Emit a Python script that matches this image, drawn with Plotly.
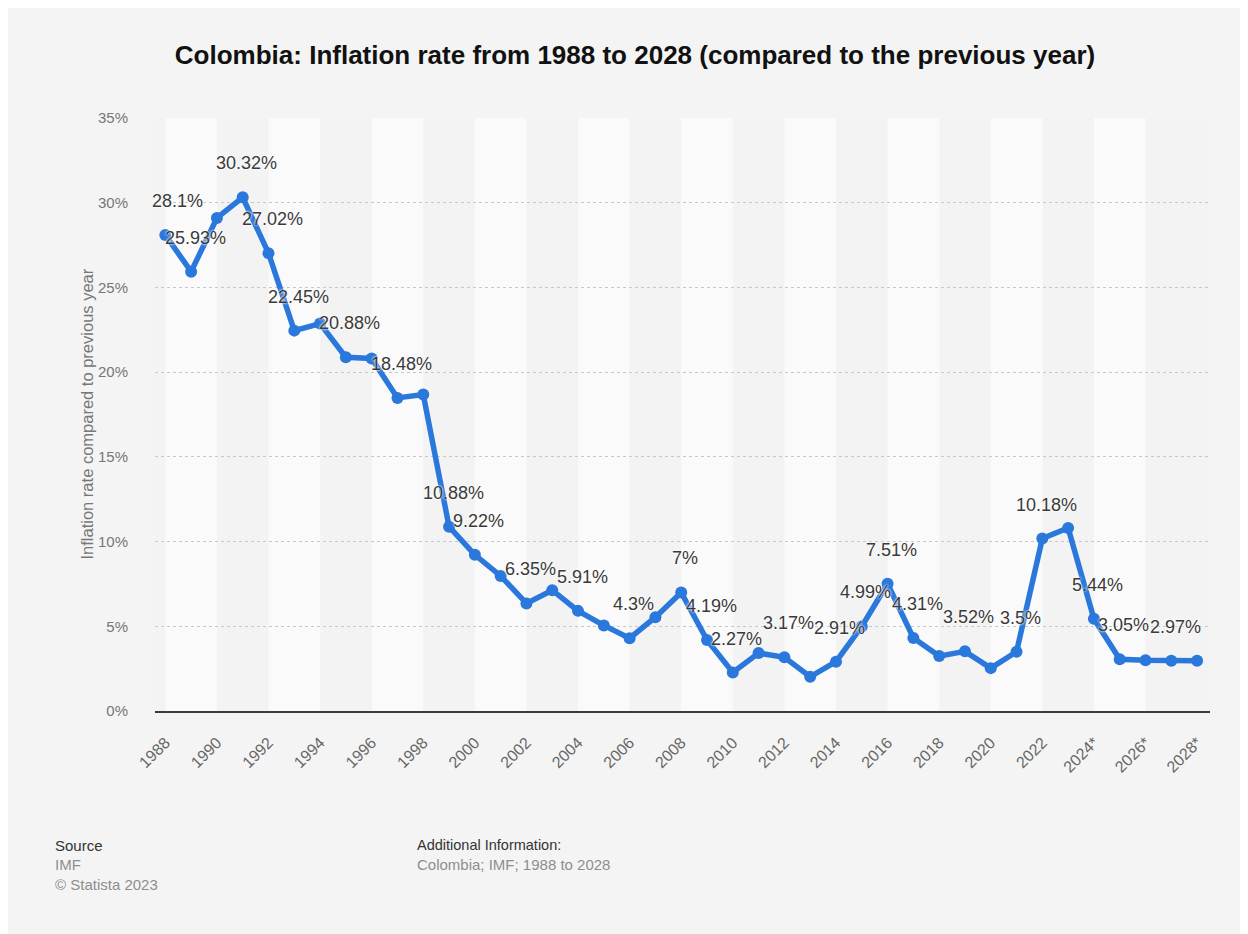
import plotly.graph_objects as go

# ---------------- data ----------------
years = list(range(1988, 2029))
inflation = [28.10, 25.93, 29.10, 30.32, 27.02, 22.45, 22.87, 20.88, 20.81, 18.48,
             18.68, 10.88, 9.22, 7.97, 6.35, 7.13, 5.91, 5.05, 4.30, 5.54,
             7.00, 4.19, 2.27, 3.42, 3.17, 2.02, 2.91, 4.99, 7.51, 4.31,
             3.24, 3.52, 2.53, 3.50, 10.18, 10.80, 5.44, 3.05, 3.00, 2.97,
             2.97]
labeled_years = [1988, 1989, 1991, 1992, 1993, 1995, 1997, 1999, 2000, 2002,
                 2004, 2006, 2008, 2009, 2010, 2012, 2014, 2015, 2016, 2017,
                 2019, 2021, 2022, 2024, 2025, 2027]
tick_years = list(range(1988, 2029, 2))
tick_labels = [str(y) + ("*" if y >= 2024 else "") for y in tick_years]
y_ticks = [0, 5, 10, 15, 20, 25, 30, 35]
y_tick_labels = [f"{v}%" for v in y_ticks]

title = "Colombia: Inflation rate from 1988 to 2028 (compared to the previous year)"
y_title = "Inflation rate compared to previous year"

def fmt(v):
    s = f"{v:.2f}".rstrip("0").rstrip(".")
    return s + "%"

# ---------------- layout geometry ----------------
OFF = 8  # page body margin
W, H = 1248 - OFF, 934 - OFF
ML, MR, MT, MB = 155 - OFF, 38, 118 - OFF, 223
PW, PH = W - ML - MR, H - MT - MB

def px_x(px):  # screen px -> paper
    return (px - OFF - ML) / PW

def px_y(py):
    return (H - MB - (py - OFF)) / PH

BLUE = "#2a78dc"
FONT = "Liberation Sans, Arial, sans-serif"

fig = go.Figure()
fig.add_trace(go.Scatter(
    x=years, y=inflation, mode="lines+markers",
    line=dict(color=BLUE, width=5.5),
    marker=dict(color=BLUE, size=12),
    hoverinfo="x+y", showlegend=False,
))

shapes = []
for k, y0 in enumerate(range(1988, 2028, 2)):
    if k % 2 == 0:
        shapes.append(dict(type="rect", xref="x", yref="paper", x0=y0, x1=y0 + 2,
                           y0=0, y1=1, fillcolor="#fafafa", line_width=0, layer="below"))

annotations = []
val_by_year = dict(zip(years, inflation))
for yr in labeled_years:
    v = val_by_year[yr]
    annotations.append(dict(
        x=yr, y=v, xref="x", yref="y", text=fmt(v), showarrow=False,
        xshift=12 if yr == years[0] else 4, yshift=34,
        font=dict(family=FONT, size=18, color="#3a3a3a",
                  shadow="0px 0px 3px #ffffff, 0px 0px 2px #ffffff"),
    ))

annotations.append(dict(x=px_x(75), y=0.5, xref="paper", yref="paper", text=y_title,
                        textangle=-90, showarrow=False,
                        font=dict(family=FONT, size=16.5, color="#777777")))
annotations += [
    dict(x=px_x(53), y=px_y(845), xref="paper", yref="paper", text="Source",
         xanchor="left", yanchor="middle", showarrow=False,
         font=dict(family=FONT, size=15, color="#333333")),
    dict(x=px_x(53), y=px_y(865), xref="paper", yref="paper", text="IMF",
         xanchor="left", yanchor="middle", showarrow=False,
         font=dict(family=FONT, size=15, color="#8e8e8e")),
    dict(x=px_x(53), y=px_y(884), xref="paper", yref="paper", text="© Statista 2023",
         xanchor="left", yanchor="middle", showarrow=False,
         font=dict(family=FONT, size=15, color="#8e8e8e")),
    dict(x=px_x(415), y=px_y(845), xref="paper", yref="paper", text="Additional Information:",
         xanchor="left", yanchor="middle", showarrow=False,
         font=dict(family=FONT, size=14.5, color="#333333")),
    dict(x=px_x(415), y=px_y(865), xref="paper", yref="paper", text="Colombia; IMF; 1988 to 2028",
         xanchor="left", yanchor="middle", showarrow=False,
         font=dict(family=FONT, size=15, color="#8e8e8e")),
]

fig.update_layout(
    width=W, height=H,
    margin=dict(l=ML, r=MR, t=MT, b=MB),
    paper_bgcolor="#f4f4f4", plot_bgcolor="#f3f3f3",
    title=dict(text=f"<b>{title}</b>", xref="container", yref="container",
               x=(635 - OFF) / W, y=1 - (55 - OFF) / H, xanchor="center", yanchor="middle",
               font=dict(family=FONT, size=26, color="#111111")),
    shapes=shapes, annotations=annotations,
    xaxis=dict(range=[1987.6, 2028.5], tickvals=tick_years, ticktext=tick_labels,
               tickangle=-45, showgrid=False, zeroline=False,
               showline=True, linecolor="#3c3c3c", linewidth=2,
               ticks="", ticklabelstandoff=14,
               tickfont=dict(family=FONT, size=16, color="#666666")),
    yaxis=dict(range=[0, 35], tickvals=y_ticks, ticktext=y_tick_labels,
               showgrid=True, gridcolor="#c8c8c8", griddash="dot", gridwidth=1,
               zeroline=False, showline=False, ticks="", ticklabelstandoff=26,
               tickfont=dict(family=FONT, size=15, color="#777777")),
)

fig.write_html("out.html")
